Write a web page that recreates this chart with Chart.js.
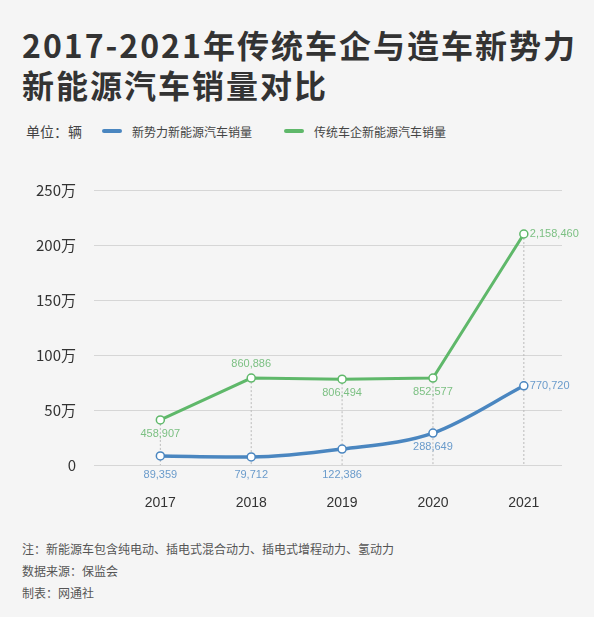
<!DOCTYPE html>
<html><head><meta charset="utf-8">
<script src="https://cdn.jsdelivr.net/npm/chart.js@4"></script>
<style>
body{margin:0;background:#f5f5f5;font-family:"Noto Sans CJK SC","Noto Sans",sans-serif;}
#wrap{position:relative;width:594px;height:617px;overflow:hidden}
h1{position:absolute;left:22px;top:24px;margin:0;font-size:32px;line-height:40px;font-weight:700;color:#333;letter-spacing:2px;white-space:nowrap}
#leg{position:absolute;left:26px;top:121px;font-size:13px;color:#444;display:flex;align-items:center}
.sw{display:inline-block;width:20px;height:4px;border-radius:2px;margin:0 10px 0 0}
.note{position:absolute;left:22px;font-size:12px;color:#555}
canvas{position:absolute;left:0;top:0}
</style></head><body><div id="wrap">
<h1>2017-2021年传统车企与造车新势力<br>新能源汽车销量对比</h1>
<div id="leg"><span style="font-size:14px;margin-right:20px">单位：辆</span><span class="sw" style="background:#4a86c0"></span><span style="margin-right:32px;font-size:12px">新势力新能源汽车销量</span><span class="sw" style="background:#5fb86a"></span><span style="font-size:12px">传统车企新能源汽车销量</span></div>
<div class="note" style="top:540px">注：新能源车包含纯电动、插电式混合动力、插电式增程动力、氢动力</div>
<div class="note" style="top:562px">数据来源：保监会</div>
<div class="note" style="top:584px">制表：网通社</div>
<canvas id="c" width="594" height="617"></canvas>
</div>
<script>
const years=[2017,2018,2019,2020,2021];
const newForces=[8.2,7.3,14.5,29,72];
const traditional=[41,79,78,79,210];
const newForcesLabels=["89,359","79,712","122,386","288,649","770,720"];
const traditionalLabels=["458,907","860,886","806,494","852,577","2,158,460"];
const yTicks=[0,50,100,150,200,250];
const labelPos={t:["below","above","below","below","right"],n:["axis","axis","axis","below","right"]};
const BLUE="#4a86c0",GREEN="#5fb86a";
const plug={id:'lbl',
beforeDatasetsDraw(ch){const c=ch.ctx,x=ch.scales.x,y=ch.scales.y;c.save();c.strokeStyle="#bbb";c.setLineDash([2,2]);c.lineWidth=1;
 years.forEach((yr,i)=>{const px=x.getPixelForValue(yr);c.beginPath();c.moveTo(px,y.getPixelForValue(Math.max(traditional[i],newForces[i])));c.lineTo(px,y.bottom);c.stroke();});c.restore();},
afterDatasetsDraw(ch){const c=ch.ctx,x=ch.scales.x,y=ch.scales.y;c.save();c.font="11px 'Liberation Sans',Arial";
 const draw=(vals,labs,pos,col)=>{vals.forEach((v,i)=>{const px=x.getPixelForValue(years[i]),py=y.getPixelForValue(v);c.fillStyle=col;c.textBaseline="middle";
  let tx=px,ty=py;c.textAlign="center";
  if(pos[i]=="below")ty=py+14;else if(pos[i]=="above")ty=py-14;else if(pos[i]=="axis")ty=y.bottom+10;else{c.textAlign="left";tx=px+6;}
  c.fillText(labs[i],tx,ty);});};
 draw(traditional,traditionalLabels,labelPos.t,"#7cc083");draw(newForces,newForcesLabels,labelPos.n,"#6a9bcb");c.restore();}};
new Chart(document.getElementById('c'),{type:'line',
data:{datasets:[
{data:years.map((y,i)=>({x:y,y:traditional[i]})),borderColor:GREEN,borderWidth:3,pointRadius:4,pointBackgroundColor:"#fff",pointBorderColor:GREEN,pointBorderWidth:1.5,tension:0},
{data:years.map((y,i)=>({x:y,y:newForces[i]})),borderColor:BLUE,borderWidth:3.5,pointRadius:4,pointBackgroundColor:"#fff",pointBorderColor:BLUE,pointBorderWidth:1.5,cubicInterpolationMode:'monotone'}]},
options:{responsive:false,animation:false,layout:{padding:{top:190,right:32,left:0,bottom:0}},
plugins:{legend:{display:false},tooltip:{enabled:false}},
scales:{x:{type:'linear',min:2016.27,max:2021.42,afterBuildTicks:s=>{s.ticks=years.map(v=>({value:v}));},
 afterFit:s=>{s.height=152;},grid:{display:false},border:{display:false},
 ticks:{padding:22,color:"#333",font:{size:14,family:"'Liberation Sans',Arial"},callback:v=>String(v)}},
y:{min:0,max:250,afterBuildTicks:s=>{s.ticks=yTicks.map(v=>({value:v}));},afterFit:s=>{s.width=94;},
 border:{display:false},grid:{color:"#d6d6d6",borderDash:[2,2],drawTicks:false},
 ticks:{padding:18,color:"#333",font:{size:15,family:"'Noto Sans CJK SC'"},callback:v=>v===0?"0":v+"万"}}}},
plugins:[plug]});
</script></body></html>
